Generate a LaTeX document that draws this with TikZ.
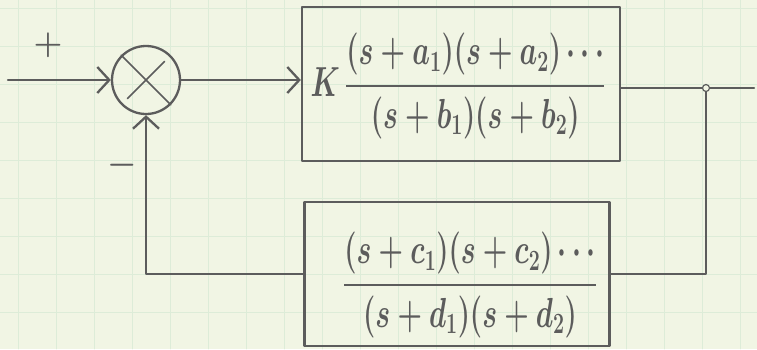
\RequirePackage{fix-cm}
\documentclass[tikz,border=0pt]{standalone}
\usepackage{amsmath}
\usetikzlibrary{arrows.meta}
\definecolor{pencil}{RGB}{92,92,92}
\definecolor{paper}{RGB}{241,245,228}
\definecolor{gridline}{RGB}{221,236,216}
\newcommand{\tallmath}[1]{\scalebox{1}[1.5]{$#1$}}
\begin{document}
\begin{tikzpicture}[x=1pt,y=-1pt,line join=round,line cap=round,
	>={Straight Barb[length=12pt,width=26pt]},line width=2.3pt,pencil,
	block/.style={draw,rectangle,inner sep=0pt},
	tf/.style={inner sep=0pt,font=\fontsize{28}{34}\selectfont\boldmath},
	font=\fontsize{33}{40}\selectfont\boldmath]
	
	\useasboundingbox (0,0) rectangle (757,349);
	\fill[paper] (0,0) rectangle (757,349);
	\foreach \gx in {18,56,...,757} \draw[gridline,line width=0.8pt] (\gx,0)--(\gx,349);
	\foreach \gy in {8,46,...,349} \draw[gridline,line width=0.8pt] (0,\gy)--(757,\gy);
	
	\node[circle,draw,minimum size=68pt,inner sep=0pt] (sum) at (146,80) {};
	\draw[line width=1.6pt,shorten >=9pt,shorten <=9pt] (sum.north west)--(sum.south east) (sum.north east)--(sum.south west);
	\node[block,minimum width=318pt,minimum height=154pt] (fwd) at (461,84) {};
	\node[block,minimum width=305pt,minimum height=144pt] (fb) at (457,274) {};
	\node[tf] (fwdtf) at (458,86) {\tallmath{K\,\dfrac{(s+a_1)(s+a_2)\cdots}{(s+b_1)(s+b_2)}}};
	\node[tf] (fbtf) at (470,285) {\tallmath{\dfrac{(s+c_1)(s+c_2)\cdots}{(s+d_1)(s+d_2)}}};
	\node (plus) at (48,45) {$+$};
	\node (minus) at (122,165) {$-$};
	\coordinate (in) at (8,80);
	\coordinate (split) at (706,88);
	\coordinate (out) at (754,88);
	
	\draw[->] (in)--(sum.west);
	\draw[->] (sum.east)--(sum.east -| fwd.west);
	\draw (split -| fwd.east)--(out);
	\draw (split) |- (fb.east);
	\draw[->] (fb.west) -| (sum.south);
	\node[circle,draw,fill=paper,line width=1.2pt,minimum size=7pt,inner sep=0pt] (dot) at (split) {};
\end{tikzpicture}
\end{document}
